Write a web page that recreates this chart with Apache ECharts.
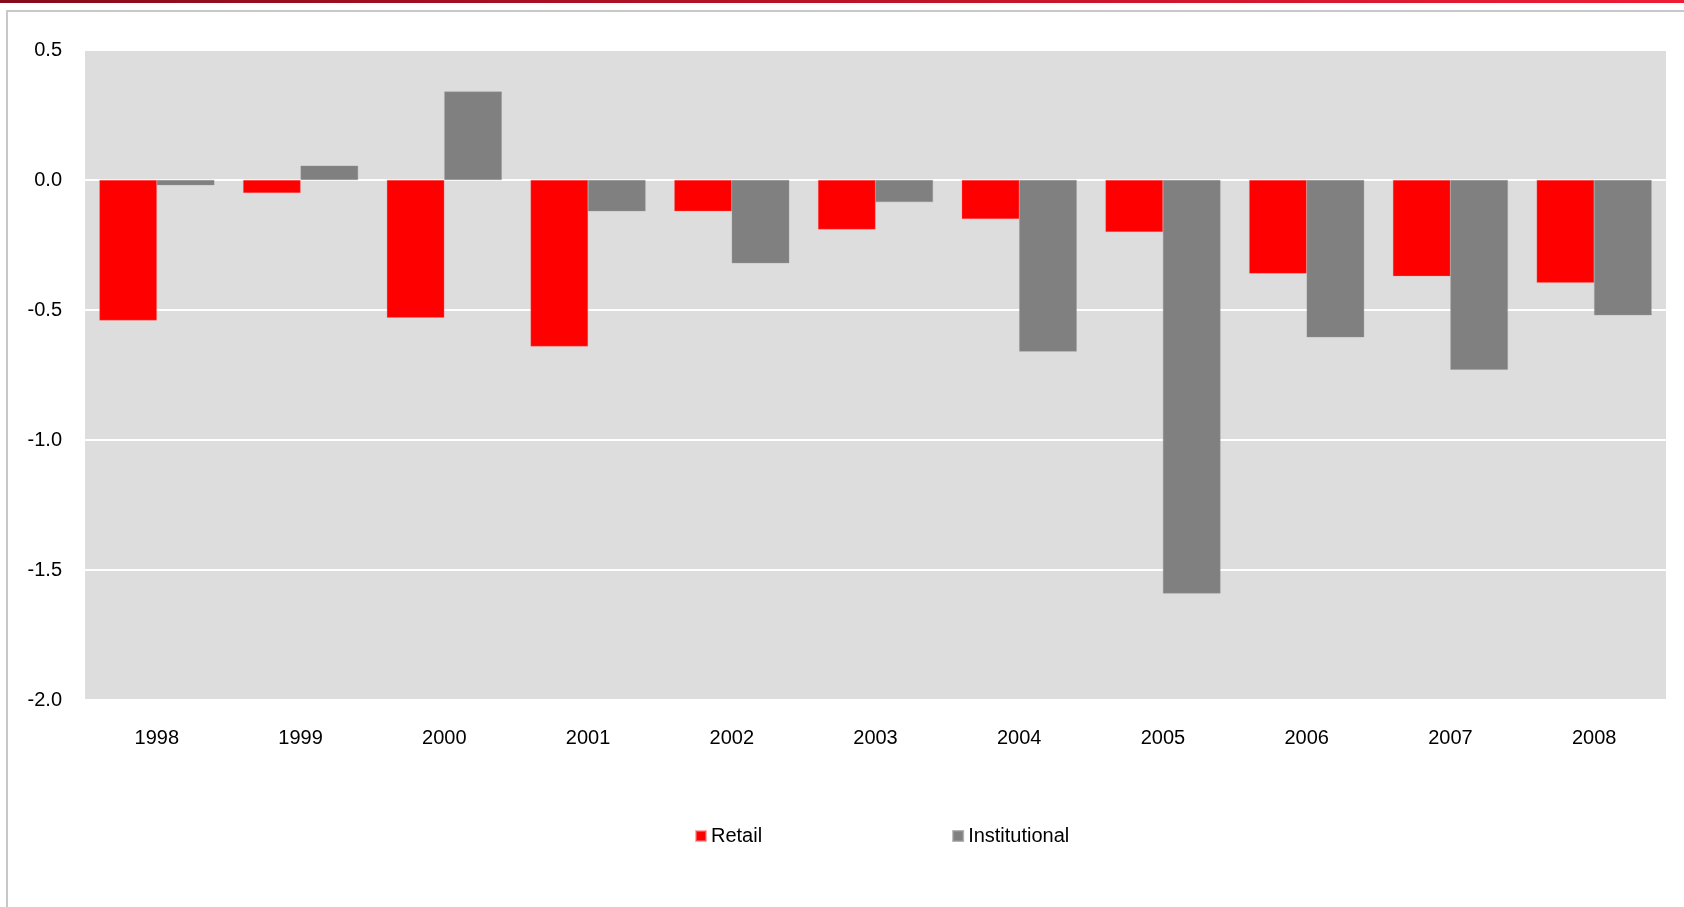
<!DOCTYPE html>
<html><head><meta charset="utf-8">
<style>html,body{margin:0;padding:0;background:#fff}#c{width:1684px;height:907px}</style>
<script src="https://cdn.jsdelivr.net/npm/echarts@6/dist/echarts.min.js"></script>
</head><body><div id="c"></div>
<script>
const years = ['1998','1999','2000','2001','2002','2003','2004','2005','2006','2007','2008'];
const retail = [-0.54, -0.05, -0.53, -0.64, -0.12, -0.19, -0.15, -0.20, -0.36, -0.37, -0.395];
const institutional = [-0.02, 0.055, 0.34, -0.12, -0.32, -0.085, -0.66, -1.59, -0.605, -0.73, -0.52];
const seriesNames = ['Retail', 'Institutional'];

const chart = echarts.init(document.getElementById('c'), null, {renderer: 'canvas'});
const font = 'Liberation Sans, Arial, sans-serif';
chart.setOption({
  animation: false,
  backgroundColor: '#ffffff',
  textStyle: {fontFamily: font},
  graphic: [
    {type: 'rect', left: 0, top: 0, shape: {width: 1684, height: 3},
     style: {fill: new echarts.graphic.LinearGradient(0, 0, 1, 0, [{offset: 0, color: '#860a1a'}, {offset: 1, color: '#ee1c35'}])}},
    {type: 'rect', left: 6, top: 10, shape: {width: 1678, height: 2}, style: {fill: '#c8c8c8'}},
    {type: 'rect', left: 6, top: 10, shape: {width: 2, height: 897}, style: {fill: '#c8c8c8'}}
  ],
  grid: {left: 85, right: 18, top: 50, bottom: 207, show: true, backgroundColor: '#dddddd', borderWidth: 0},
  legend: {
    left: 690, top: 821, itemWidth: 10, itemHeight: 10, itemGap: 190,
    icon: 'rect',
    textStyle: {fontSize: 20, color: '#000', fontFamily: font, padding: [0, 0, 0, 0]},
    data: seriesNames
  },
  xAxis: {
    type: 'category', data: years,
    axisLine: {show: false}, axisTick: {show: false},
    axisLabel: {fontSize: 20, color: '#000', margin: 28, fontFamily: font}
  },
  yAxis: {
    type: 'value', min: -2.0, max: 0.5, interval: 0.5,
    axisLine: {show: false}, axisTick: {show: false},
    axisLabel: {fontSize: 20, color: '#000', margin: 23, fontFamily: font, formatter: v => v.toFixed(1)},
    splitLine: {show: true, lineStyle: {color: '#ffffff', width: 2}}
  },
  series: [
    {name: seriesNames[0], type: 'bar', data: retail, barGap: '0%', barCategoryGap: '20%',
     itemStyle: {color: '#ff0000', borderColor: 'rgba(255,120,120,0.6)', borderWidth: 0.5}},
    {name: seriesNames[1], type: 'bar', data: institutional,
     itemStyle: {color: '#808080', borderColor: 'rgba(150,150,150,0.7)', borderWidth: 0.5}}
  ]
});
</script></body></html>
